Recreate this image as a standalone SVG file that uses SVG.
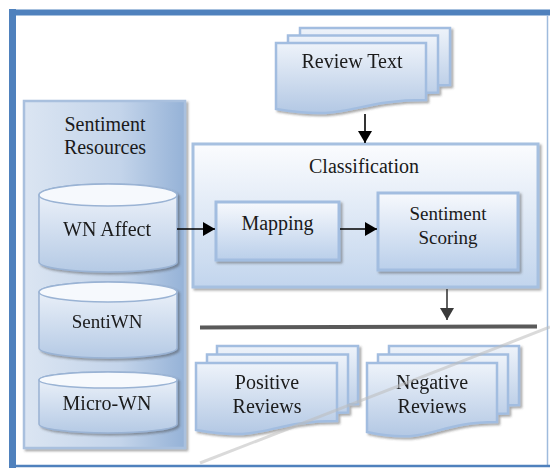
<svg xmlns="http://www.w3.org/2000/svg" width="550" height="468" viewBox="0 0 550 468">
  <defs>
    <linearGradient id="docGrad" x1="0" y1="0" x2="0" y2="1">
      <stop offset="0" stop-color="#eef3fa"/>
      <stop offset="1" stop-color="#b3c8e4"/>
    </linearGradient>
    <linearGradient id="panelGrad" x1="0" y1="0" x2="1" y2="0">
      <stop offset="0" stop-color="#dbe5f2"/>
      <stop offset="0.6" stop-color="#c3d4ea"/>
      <stop offset="1" stop-color="#95b2d7"/>
    </linearGradient>
    <linearGradient id="classGrad" x1="0" y1="0" x2="0" y2="1">
      <stop offset="0" stop-color="#fbfcfe"/>
      <stop offset="1" stop-color="#c2d5ed"/>
    </linearGradient>
    <linearGradient id="boxGrad" x1="0" y1="0" x2="0" y2="1">
      <stop offset="0" stop-color="#f7f9fd"/>
      <stop offset="1" stop-color="#bacfea"/>
    </linearGradient>
    <linearGradient id="cylGrad" x1="0" y1="0" x2="0" y2="1">
      <stop offset="0" stop-color="#f1f5fb"/>
      <stop offset="1" stop-color="#b5cae5"/>
    </linearGradient>
    <filter id="shadow" x="-10%" y="-10%" width="130%" height="130%">
      <feDropShadow dx="2" dy="2" stdDeviation="0.8" flood-color="#404040" flood-opacity="0.45"/>
    </filter>
    <marker id="arrow" markerUnits="userSpaceOnUse" markerWidth="13" markerHeight="14" refX="12" refY="7" orient="auto">
      <path d="M0,0 L12,7 L0,14 Z" fill="#000"/>
    </marker>
    <marker id="arrowGray" markerUnits="userSpaceOnUse" markerWidth="13" markerHeight="14" refX="12" refY="7" orient="auto">
      <path d="M0,0 L12,7 L0,14 Z" fill="#3a3a3a"/>
    </marker>
    <style>
      text { font-family: 'Liberation Serif', 'Times New Roman', Tinos, 'DejaVu Serif', 'Noto Serif', FreeSerif, 'Nimbus Roman', Times, serif; }
      .lbl { font-size: 20px; fill: #1a1a1a; text-anchor: middle; }
      .doc { fill: url(#docGrad); stroke: #a2bde0; stroke-width: 2.5; }
      .box { fill: url(#boxGrad); stroke: #a2bde0; stroke-width: 3; }
      .cyl { fill: url(#cylGrad); stroke: #9ab3d4; stroke-width: 1.5; }
      .cyltop { fill: #f6f9fd; stroke: #9ab3d4; stroke-width: 1.5; }
      .conn { stroke: #000; stroke-width: 1.6; fill: none; }
    </style>
  </defs>

  <rect x="0" y="0" width="550" height="468" fill="#ffffff"/>

  <!-- outer frame -->
  <g id="frame">
    <line x1="12.5" y1="9" x2="12.5" y2="468" stroke="#4f81bd" stroke-width="7"/>
    <line x1="9" y1="12.5" x2="550" y2="12.5" stroke="#4f81bd" stroke-width="6"/>
    <line x1="547.5" y1="15" x2="547.5" y2="466" stroke="#9fbbdd" stroke-width="1.5"/>
    <line x1="9" y1="466" x2="550" y2="466" stroke="#4f81bd" stroke-width="2.5"/>
  </g>

  <!-- Sentiment Resources panel -->
  <g id="sentiment-resources">
    <rect x="24" y="101" width="161" height="347" fill="url(#panelGrad)" stroke="#a9c0de" stroke-width="2.5" filter="url(#shadow)"/>
    <text class="lbl" x="105" y="131">Sentiment</text>
    <text class="lbl" x="105" y="154">Resources</text>
  </g>

  <g id="wn-affect" filter="url(#shadow)">
    <path class="cyl" d="M39,195 A69,11 0 0 1 177,195 V262 A69,10 0 0 1 39,262 Z"/>
    <ellipse class="cyltop" cx="108" cy="195" rx="69" ry="11"/>
    <text class="lbl" x="107" y="236">WN Affect</text>
  </g>

  <g id="sentiwn" filter="url(#shadow)">
    <path class="cyl" d="M39,292 A69,10 0 0 1 177,292 V348 A69,10 0 0 1 39,348 Z"/>
    <ellipse class="cyltop" cx="108" cy="292" rx="69" ry="10"/>
    <text class="lbl" x="107" y="328" style="font-size:19px">SentiWN</text>
  </g>

  <g id="micro-wn" filter="url(#shadow)">
    <path class="cyl" d="M39,380 A69,8 0 0 1 177,380 V424 A69,9 0 0 1 39,424 Z"/>
    <ellipse class="cyltop" cx="108" cy="380" rx="69" ry="8"/>
    <text class="lbl" x="107" y="410">Micro-WN</text>
  </g>

  <!-- Review Text (multi-document) -->
  <g id="review-text" filter="url(#shadow)">
    <path class="doc" d="M300,28 H450 V85 C375,85 375,107 300,94 Z"/>
    <path class="doc" d="M288,35.5 H438 V92.5 C363,92.5 363,114.5 288,101.5 Z"/>
    <path class="doc" d="M276,43 H426 V100 C351,100 351,122 276,109 Z"/>
    <text class="lbl" x="352" y="68">Review Text</text>
  </g>

  <!-- Classification -->
  <g id="classification">
    <rect x="193" y="144" width="345" height="143" fill="url(#classGrad)" stroke="#a6c0e0" stroke-width="3" filter="url(#shadow)"/>
    <text class="lbl" x="364" y="173">Classification</text>
  </g>

  <g id="mapping">
    <rect class="box" x="216" y="202" width="123" height="58" filter="url(#shadow)"/>
    <text class="lbl" x="277.5" y="230">Mapping</text>
  </g>

  <g id="sentiment-scoring">
    <rect class="box" x="378" y="193" width="140" height="77" filter="url(#shadow)"/>
    <text class="lbl" x="448" y="220" style="font-size:19px">Sentiment</text>
    <text class="lbl" x="448" y="244" style="font-size:19px">Scoring</text>
  </g>

  <!-- Output documents -->
  <g id="positive-reviews" filter="url(#shadow)">
    <path class="doc" d="M217,346 H358 V404 C287.5,404 287.5,426 217,413 Z"/>
    <path class="doc" d="M207,354.5 H348 V412.5 C277.5,412.5 277.5,434.5 207,421.5 Z"/>
    <path class="doc" d="M196,363 H337 V421 C266.5,421 266.5,443 196,430 Z"/>
    <text class="lbl" x="267" y="389">Positive</text>
    <text class="lbl" x="267" y="413">Reviews</text>
  </g>

  <g id="negative-reviews" filter="url(#shadow)">
    <path class="doc" d="M389,346 H519 V405 C454,405 454,429 389,415 Z"/>
    <path class="doc" d="M378,354.5 H508 V413.5 C443,413.5 443,437.5 378,423.5 Z"/>
    <path class="doc" d="M367,363 H497 V422 C432,422 432,446 367,432 Z"/>
    <text class="lbl" x="432" y="389">Negative</text>
    <text class="lbl" x="432" y="413">Reviews</text>
  </g>

  <!-- connectors -->
  <g id="connectors">
    <line class="conn" x1="365" y1="114" x2="365" y2="143" marker-end="url(#arrow)"/>
    <line class="conn" x1="177" y1="229" x2="215" y2="229" marker-end="url(#arrow)"/>
    <line class="conn" x1="340" y1="229" x2="377" y2="229" marker-end="url(#arrow)"/>
    <line x1="447" y1="289" x2="447" y2="320" stroke="#3a3a3a" stroke-width="1.6" marker-end="url(#arrowGray)"/>
    <line x1="200" y1="327.5" x2="537" y2="326.5" stroke="#5a5a5a" stroke-width="4"/>
  </g>

  <!-- watermark stroke -->
  <line x1="200" y1="463" x2="550" y2="327" stroke="#bdbdbd" stroke-width="3" opacity="0.55"/>
</svg>
